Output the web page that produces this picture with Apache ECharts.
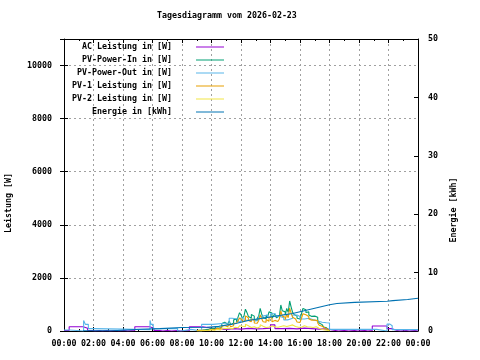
<!DOCTYPE html>
<html>
<head>
<meta charset="utf-8">
<script src="https://cdn.jsdelivr.net/npm/echarts@6/dist/echarts.min.js"></script>
<style>html,body{margin:0;padding:0;background:#fff}#c{width:480px;height:360px}</style>
</head>
<body>
<div id="c"></div>
<script>
const titleText = 'Tagesdiagramm vom 2026-02-23';
const xTickLabels = ['00:00','02:00','04:00','06:00','08:00','10:00','12:00','14:00','16:00','18:00','20:00','22:00','00:00'];
const seriesNames = ['AC Leistung in [W]','PV-Power-In in [W]','PV-Power-Out in [W]','PV-1 Leistung in [W]','PV-2 Leistung in [W]','Energie in [kWh]'];

// AC Leistung [W]  [hour, value]
const acPoints = [[0,20],[0.35,160],[1.3,100],[1.6,20],[1.9,0],[2.1,20],[2.4,0],[2.6,20],[2.9,0],[3.1,20],[3.5,0],[3.7,20],[4.1,0],[4.3,20],[4.8,160],[5.8,100],[6.1,20],[6.5,0],[6.7,20],[7.0,0],[7.3,20],[7.7,0],[7.9,20],[8.5,160],[9.4,110],[10.0,80],[10.5,60],[11.0,90],[11.5,70],[12.0,100],[12.5,80],[13.0,90],[13.5,110],[14.0,230],[14.3,90],[14.8,100],[15.3,80],[15.8,110],[16.3,90],[16.8,70],[17.3,80],[17.8,60],[18.0,20],[18.4,0],[18.6,20],[19.0,0],[19.3,20],[19.7,0],[19.9,20],[20.4,0],[20.6,20],[20.9,190],[21.9,90],[22.2,20],[22.6,0],[22.8,20],[23.2,0],[23.4,20],[23.8,0],[24,20]];

// PV-Power-Out [W]
const pvOutPoints = [[0,40],[0.4,0],[1.33,400],[1.45,250],[1.65,90],[2.0,50],[5.83,400],[5.9,250],[6.05,90],[7.7,0],[7.95,60],[8.6,0],[9.33,250],[10.1,290],[10.9,300],[11.2,480],[11.4,420],[11.5,450],[11.8,350],[12.0,500],[12.2,400],[12.5,450],[12.8,380],[13.0,420],[13.2,550],[13.4,620],[13.5,600],[13.8,520],[14.0,650],[14.3,710],[14.4,560],[14.6,500],[14.9,420],[15.2,480],[15.5,600],[15.8,550],[16.0,450],[16.3,480],[16.6,420],[16.9,380],[17.2,330],[17.5,310],[17.8,300],[18.0,60],[21.2,0],[21.9,260],[22.1,200],[22.25,50],[24,50]];

// Daytime samples (hour)
const dayHours = [9.0,9.1,9.2,9.3,9.4,9.5,9.6,9.7,9.8,9.9,
  10.0,10.1,10.2,10.3,10.4,10.5,10.6,10.7,10.8,10.9,
  11.0,11.1,11.2,11.3,11.4,11.5,11.6,11.7,11.8,11.9,
  12.0,12.1,12.2,12.3,12.4,12.5,12.6,12.7,12.8,12.9,
  13.0,13.1,13.2,13.3,13.4,13.5,13.6,13.7,13.8,13.9,
  14.0,14.1,14.2,14.3,14.4,14.5,14.6,14.7,14.8,14.9,
  15.0,15.1,15.2,15.3,15.4,15.5,15.6,15.7,15.8,15.9,
  16.0,16.1,16.2,16.3,16.4,16.5,16.6,16.7,16.8,16.9,
  17.0,17.1,17.2,17.3,17.4,17.5,17.6,17.7,17.8,17.9,18.0];
const pvInValues = [20,30,40,35,60,50,90,60,70,110,
  120,80,100,160,150,110,130,280,330,260,
  250,320,380,240,300,420,450,350,520,690,
  600,480,560,820,700,550,480,620,560,420,
  400,480,560,850,640,500,460,600,520,720,
  680,480,560,650,500,560,620,980,760,720,
  600,850,700,1130,900,700,620,560,480,450,
  520,650,850,800,700,720,600,550,480,560,
  630,520,400,300,240,220,150,120,80,40,0];
const pv1Values = [20,30,30,25,40,30,50,30,40,60,
  70,50,60,100,90,70,80,180,210,170,
  160,210,260,160,200,280,300,230,380,490,
  420,340,400,570,500,400,350,450,400,300,
  290,350,400,610,460,350,330,430,370,520,
  490,350,400,470,360,400,450,760,560,520,
  430,630,500,860,670,520,450,410,340,320,
  380,480,650,610,540,550,450,410,350,410,
  470,390,300,220,180,160,110,90,60,30,0];
const pv2Values = [0,0,10,10,20,20,40,30,30,50,
  50,30,40,60,60,40,50,100,120,90,
  90,110,120,80,100,140,150,120,140,200,
  180,140,160,250,200,150,130,170,160,120,
  110,130,160,240,180,150,130,170,150,200,
  190,130,160,180,140,160,170,220,200,200,
  170,220,200,270,230,180,170,150,140,130,
  140,170,200,190,160,170,150,140,130,150,
  160,130,100,80,60,60,40,30,20,10,0];

// Energie [kWh]
const energyPoints = [[1.3,0.05],[3.3,0.3],[5.2,0.4],[6.5,0.6],[8.0,0.65],[9.7,0.8],[10.5,1.0],[11.0,1.2],[11.5,1.5],[12.0,1.8],[12.5,2.0],[13.0,2.2],[13.5,2.4],[14.0,2.6],[14.5,2.8],[15.0,3.0],[15.5,3.3],[16.0,3.6],[16.5,3.9],[17.0,4.2],[17.5,4.5],[18.0,4.7],[18.5,4.9],[19.7,5.1],[21.9,5.2],[22.3,5.4],[23.3,5.6],[24,5.6]];

const colors = ['#9400d3','#009e73','#56b4e9','#e69f00','#f0e442','#0072b2'];
const FONT = 'DejaVu Sans Mono';
const FS = 8.3;
const FW = 'bold';
const pair = (hs, vs) => hs.map((h, i) => [h, vs[i]]);

const legendRowsY = [47, 60, 73, 86, 99, 112];
const legends = seriesNames.map((n, i) => ({
  data: [n], orient: 'vertical', align: 'right', right: 256, top: legendRowsY[i] - 6,
  padding: 0, itemWidth: 28, itemHeight: 1.5, icon: 'path://M0,0H28V1H0Z', selectedMode: false,
  itemStyle: {borderWidth: 0, color: colors[i]},
  textStyle: {fontFamily: FONT, fontSize: FS, fontWeight: FW, color: '#000', lineHeight: 12, padding: [0, 19, 0, 0]}
}));

const gridDash = {color: '#a0a0a0', width: 1, type: [2, 3]};
const lineSeries = (name, idx, data, yi) => ({
  name, type: 'line', step: 'end', data, yAxisIndex: yi, xAxisIndex: 0,
  symbol: 'none', color: colors[idx], lineStyle: {width: 1.1, color: colors[idx]}, animation: false
});
const labelStyle = {color: '#000', fontFamily: FONT, fontSize: FS, fontWeight: FW};

const chart = echarts.init(document.getElementById('c'), null, {renderer: 'canvas'});
chart.setOption({
  animation: false,
  backgroundColor: '#fff',
  title: {text: titleText, left: 157, top: 12, padding: 0,
    textStyle: {fontFamily: FONT, fontSize: FS, fontWeight: FW, color: '#000'}},
  legend: legends,
  grid: {left: 64, right: 62, top: 39, bottom: 29, containLabel: false, outerBoundsMode: 'none'},
  xAxis: [{
    type: 'value', min: 0, max: 24, interval: 2, position: 'bottom',
    axisLine: {show: true, onZero: false, lineStyle: {color: '#000', width: 1}},
    axisTick: {show: true, inside: true, length: 4, lineStyle: {color: '#000'}},
    minorTick: {show: true, splitNumber: 2, length: 2, lineStyle: {color: '#000'}},
    axisLabel: Object.assign({margin: 9, formatter: v => xTickLabels[Math.round(v / 2)]}, labelStyle),
    splitLine: {show: true, lineStyle: gridDash}
  }, {
    type: 'value', min: 0, max: 24, interval: 2, position: 'top',
    axisLine: {show: true, onZero: false, lineStyle: {color: '#000', width: 1}},
    axisTick: {show: true, inside: true, length: 4, lineStyle: {color: '#000'}},
    minorTick: {show: true, splitNumber: 2, length: 2, lineStyle: {color: '#000'}},
    axisLabel: {show: false}, splitLine: {show: false}
  }],
  yAxis: [{
    type: 'value', min: 0, max: 11000, interval: 2000, position: 'left',
    name: 'Leistung [W]', nameLocation: 'middle', nameGap: 51, nameRotate: 90,
    nameTextStyle: Object.assign({padding: [0, 36, 0, 0]}, labelStyle),
    axisLine: {show: true, onZero: false, lineStyle: {color: '#000', width: 1}},
    axisTick: {show: true, inside: true, length: 4, lineStyle: {color: '#000'}},
    axisLabel: Object.assign({margin: 12, showMaxLabel: false, formatter: v => String(v)}, labelStyle),
    splitLine: {show: true, lineStyle: gridDash}
  }, {
    type: 'value', min: 0, max: 50, interval: 10, position: 'right',
    name: 'Energie [kWh]', nameLocation: 'middle', nameGap: 32, nameRotate: 90,
    nameTextStyle: Object.assign({padding: [0, 50, 0, 0]}, labelStyle),
    axisLine: {show: true, onZero: false, lineStyle: {color: '#000', width: 1}},
    axisTick: {show: true, inside: true, length: 4, lineStyle: {color: '#000'}},
    axisLabel: Object.assign({margin: 10, formatter: v => String(v)}, labelStyle),
    splitLine: {show: false}
  }, {
    type: 'value', min: 0, max: 11000, interval: 2000, position: 'right',
    axisLine: {show: false},
    axisTick: {show: true, inside: true, length: 4, lineStyle: {color: '#000'}},
    axisLabel: {show: false}, splitLine: {show: false}
  }],
  series: [
    lineSeries(seriesNames[0], 0, acPoints, 0),
    lineSeries(seriesNames[1], 1, pair(dayHours, pvInValues), 0),
    lineSeries(seriesNames[2], 2, pvOutPoints, 0),
    lineSeries(seriesNames[3], 3, pair(dayHours, pv1Values), 0),
    lineSeries(seriesNames[4], 4, pair(dayHours, pv2Values), 0),
    lineSeries(seriesNames[5], 5, energyPoints, 1)
  ]
});
</script>
</body>
</html>
